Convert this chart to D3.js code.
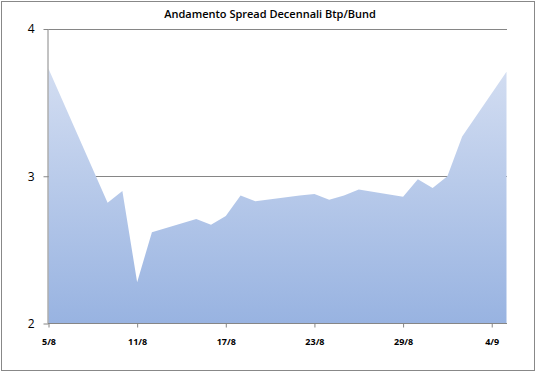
<!DOCTYPE html>
<meta charset="utf-8">
<title>Andamento Spread</title>
<style>
    body {
        margin: 0;
        background: #fff;
    }

    svg text {
        font-family: "Open Sans", "Liberation Sans", sans-serif;
        fill: #000;
    }
</style>
<body>
<script src="https://cdn.jsdelivr.net/npm/d3@7"></script>
<script>
    // spread values (working days only)
    var dates = ["2011-08-05", "2011-08-09", "2011-08-10", "2011-08-11", "2011-08-12",
        "2011-08-15", "2011-08-16", "2011-08-17", "2011-08-18", "2011-08-19",
        "2011-08-22", "2011-08-23", "2011-08-24", "2011-08-25", "2011-08-26",
        "2011-08-29", "2011-08-30", "2011-08-31", "2011-09-01", "2011-09-02", "2011-09-05"];
    var values = [3.73, 2.82, 2.90, 2.28, 2.62,
        2.71, 2.67, 2.73, 2.87, 2.83,
        2.87, 2.88, 2.84, 2.87, 2.91,
        2.86, 2.98, 2.92, 3.00, 3.27, 3.71];
    var xTicks = ["2011-08-05", "2011-08-11", "2011-08-17", "2011-08-23", "2011-08-29", "2011-09-04"];
    var yTicks = [2, 3, 4];
    var title = "Andamento Spread Decennali Btp/Bund";

    var W = 537, H = 373;
    var parse = d3.utcParse("%Y-%m-%d");
    var data = dates.map(function (d, i) {
        return {date: parse(d), v: values[i]};
    });

    var x = d3.scaleUtc()
        .domain([data[0].date, data[data.length - 1].date])
        .range([48.5, 506.5]);
    var y = d3.scaleLinear().domain([2, 4]).range([323.5, 29]);

    var svg = d3.select("body").append("svg")
        .attr("width", W)
        .attr("height", H);

    svg.append("rect")
        .attr("x", 1.5).attr("y", 1.5)
        .attr("width", 533).attr("height", 369)
        .attr("fill", "#fff")
        .attr("stroke", "#888");

    var grad = svg.append("defs").append("linearGradient")
        .attr("id", "fill")
        .attr("gradientUnits", "userSpaceOnUse")
        .attr("x1", 0).attr("y1", y(4))
        .attr("x2", 0).attr("y2", y(2));
    grad.append("stop").attr("offset", 0).attr("stop-color", "#dce4f4");
    grad.append("stop").attr("offset", 1).attr("stop-color", "#98b3e1");

    // grid lines sit under the area
    svg.append("g")
        .selectAll("line")
        .data(yTicks.filter(function (d) { return d > 2; }))
        .enter()
        .append("line")
        .attr("x1", 48.5)
        .attr("x2", 507)
        .attr("y1", function (d) { return Math.round(y(d)) + 0.5; })
        .attr("y2", function (d) { return Math.round(y(d)) + 0.5; })
        .attr("stroke", "#868686");

    var area = d3.area()
        .x(function (d) { return x(d.date); })
        .y0(y(2))
        .y1(function (d) { return y(d.v); });

    svg.append("path")
        .datum(data)
        .attr("d", area)
        .attr("fill", "url(#fill)");

    var yAxis = svg.append("g")
        .attr("transform", "translate(48.5,0)")
        .call(d3.axisLeft(y).tickValues(yTicks).tickFormat(d3.format("d")).tickSize(5).tickPadding(9));

    var xAxis = svg.append("g")
        .attr("transform", "translate(0,323.5)")
        .call(d3.axisBottom(x)
            .tickValues(xTicks.map(parse))
            .tickFormat(d3.utcFormat("%-d/%-m"))
            .tickSize(4)
            .tickPadding(11));

    svg.selectAll(".domain").attr("stroke", "#868686");
    svg.selectAll(".tick line").attr("stroke", "#868686");
    yAxis.selectAll("text").style("font-size", "12px");
    xAxis.selectAll("text").style("font-size", "9px").style("font-weight", "bold");
    yAxis.select(".domain").attr("d", "M-0.5," + y(2) + "V" + y(4));
    xAxis.select(".domain").attr("d", "M48,0H507");

    svg.append("text")
        .attr("x", 270)
        .attr("y", 18)
        .attr("text-anchor", "middle")
        .style("font-size", "11px")
        .style("font-weight", "600")
        .text(title);
</script>
